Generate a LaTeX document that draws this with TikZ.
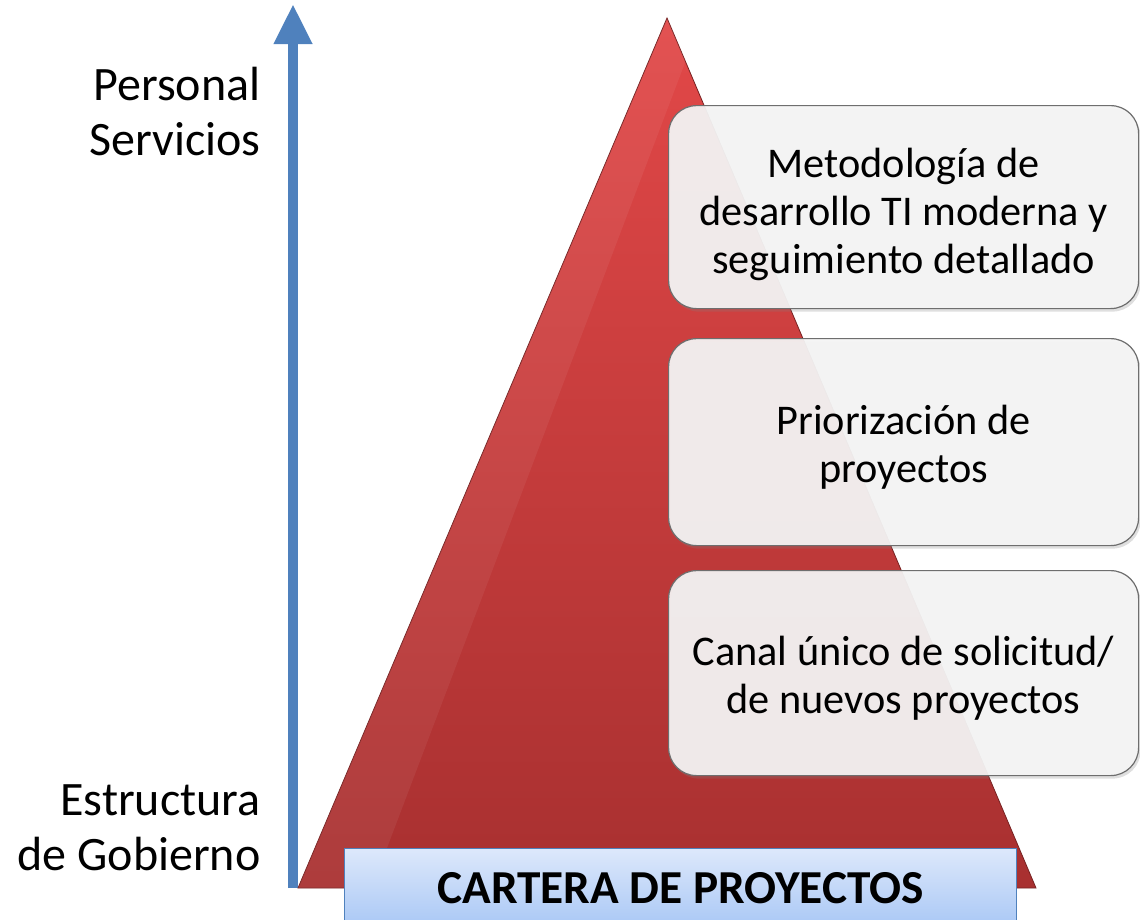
\documentclass[tikz,border=0pt]{standalone}
\usepackage{fontspec}
\setmainfont{Carlito}
\usetikzlibrary{arrows.meta,shadows,calc}
\definecolor{arrowblue}{HTML}{4F81BD}
\definecolor{redtop}{HTML}{E24848}
\definecolor{redbot}{HTML}{A83030}
\definecolor{boxfill}{HTML}{F4F4F4}
\definecolor{boxedge}{HTML}{6E6E6E}
\definecolor{bluetop}{HTML}{DDE8FB}
\definecolor{bluebot}{HTML}{A8C7F5}
\tikzset{
  lvl/.style={draw=boxedge, line width=1.2pt, rounded corners=28pt, fill=boxfill, fill opacity=0.94,
    minimum width=470pt, anchor=north west,
    drop shadow={shadow xshift=2pt, shadow yshift=-3pt, opacity=0.25}},
  lvltext/.style={align=center, font=\fontsize{42.3}{48}\selectfont},
  side/.style={align=right, anchor=east, font=\fontsize{48}{55}\selectfont},
}
\begin{document}
\begin{tikzpicture}[x=1pt,y=-1pt]
\useasboundingbox (0,0) rectangle (1140,919);
% arrow
\coordinate (abot) at (293,888);
\coordinate (atop) at (293,4);
\draw[arrowblue, line width=10pt, -{Triangle[length=40pt,width=36pt]}] (abot) -- (atop);
% triangle
\coordinate (apex) at (667,18);
\coordinate (bl) at (298,888);
\coordinate (br) at (1036,888);
\shade[top color=redtop, bottom color=redbot, draw=redbot!70!black, line width=0.8pt] (apex) -- (br) -- (bl) -- cycle;
\fill[white, opacity=0.06] (apex) -- ($(apex)!0.05!(br)$) -- ($(bl)!0.1!(br)$) -- (bl) -- cycle;
% boxes
\node[lvl, minimum height=203pt] (b1) at (668,105) {};
\node[lvl, minimum height=207pt] (b2) at (668,338) {};
\node[lvl, minimum height=205pt] (b3) at (668,570) {};
\node[lvltext] (t1) at ($(b1.center)+(0,7)$) {Metodología de\\desarrollo TI moderna y\\seguimiento detallado};
\node[lvltext] (t2) at ($(b2.center)+(0,5)$) {Priorización de\\proyectos};
\node[lvltext] (t3) at ($(b3.center)+(0,5)$) {Canal único de solicitud/\\de nuevos proyectos};
% base
\node[draw=arrowblue, line width=1.2pt, top color=bluetop, bottom color=bluebot, minimum width=672pt,
  minimum height=80pt, anchor=north west, font=\fontsize{47.3}{55}\selectfont\bfseries] (base) at (344,848) {CARTERA DE PROYECTOS};
% side labels
\node[side] (top) at (264,112) {Personal\\Servicios};
\node[side] (bot) at (264,828) {Estructura\\de Gobierno};
\end{tikzpicture}
\end{document}
